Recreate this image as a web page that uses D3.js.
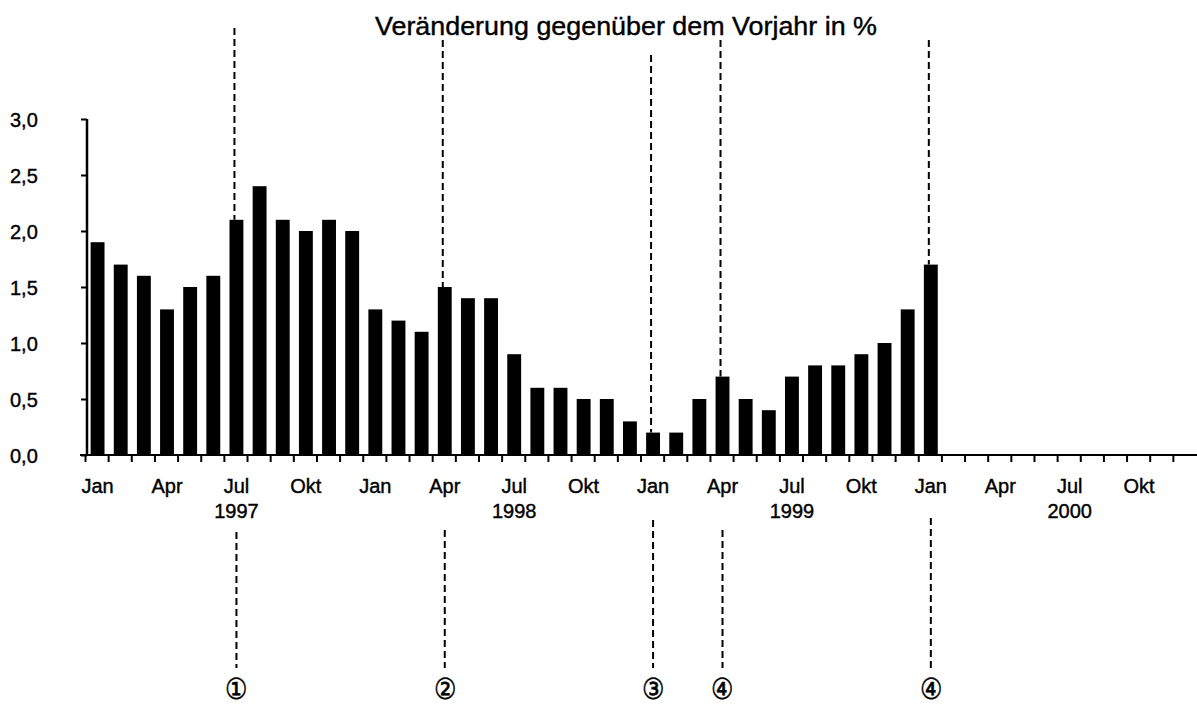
<!DOCTYPE html>
<html><head><meta charset="utf-8">
<script src="https://cdn.jsdelivr.net/npm/d3@7"></script>
<style>body{margin:0;background:#fff}svg{display:block}text{font-family:"Liberation Sans",Arial,sans-serif;fill:#000}</style>
</head><body>
<svg id="c" width="1197" height="704"></svg>
<script>
const years = ["1997","1998","1999","2000"];
const monthNames = ["Jan","Feb","Mär","Apr","Mai","Jun","Jul","Aug","Sep","Okt","Nov","Dez"];
const labelMonths = ["Jan","Apr","Jul","Okt"];
const values = [
  1.9,1.7,1.6,1.3,1.5,1.6,2.1,2.4,2.1,2.0,2.1,2.0,
  1.3,1.2,1.1,1.5,1.4,1.4,0.9,0.6,0.6,0.5,0.5,0.3,
  0.2,0.2,0.5,0.7,0.5,0.4,0.7,0.8,0.8,0.9,1.0,1.3,
  1.7
];
const yTicks = [0,0.5,1,1.5,2,2.5,3];
const eventMonths = ["1997-Jul","1998-Apr","1999-Jan","1999-Apr","2000-Jan"];
const eventLabels = ["\u2460","\u2461","\u2462","\u2463","\u2463"];
const title = "Veränderung gegenüber dem Vorjahr in %";

const months = [];
years.forEach(y => monthNames.forEach(m => months.push(y + "-" + m)));

const svg = d3.select("#c");
const x = d3.scaleBand().domain(months).range([86, 1197]).paddingInner(0.4).paddingOuter(0.2);
const y = d3.scaleLinear().domain([0, 3]).range([455, 119]);
const step = x.step();
const cxOf = m => x(m) + x.bandwidth() / 2;

// bars
svg.append("g").selectAll("rect").data(values).join("rect")
  .attr("x", (d, i) => x(months[i]))
  .attr("width", x.bandwidth())
  .attr("y", d => y(d))
  .attr("height", d => y(0) - y(d))
  .attr("fill", "#000");

// y axis
const yAxis = d3.axisLeft(y).tickValues(yTicks).tickSize(6)
  .tickFormat(d => d3.format(".1f")(d).replace(".", ","));
const gy = svg.append("g").attr("transform", "translate(87,0)").call(yAxis);
gy.select(".domain").attr("stroke-width", 2.5).attr("d", "M0," + y(3) + "V" + y(0));
gy.selectAll(".tick line").attr("stroke-width", 2);
gy.selectAll(".tick text").attr("font-size", 20).attr("text-anchor", "start")
  .attr("x", -77).attr("dy", "0.36em").attr("stroke", "#000").attr("stroke-width", 0.4);

// x axis
const gx = svg.append("g").attr("transform", "translate(0,455)");
gx.append("line").attr("x1", 80).attr("x2", 1197).attr("stroke", "#000").attr("stroke-width", 2);
gx.selectAll("line.t").data(months).join("line").attr("class", "t")
  .attr("x1", d => x(d) - step * 0.2 - 0.5)
  .attr("x2", d => x(d) - step * 0.2 - 0.5)
  .attr("y1", 0).attr("y2", 7).attr("stroke", "#000").attr("stroke-width", 2);
gx.selectAll("text.m").data(months.filter(m => labelMonths.includes(m.split("-")[1]))).join("text")
  .attr("class", "m")
  .attr("x", d => cxOf(d)).attr("y", 38)
  .attr("text-anchor", "middle").attr("font-size", 20).attr("stroke", "#000").attr("stroke-width", 0.4)
  .text(d => d.split("-")[1]);
gx.selectAll("text.yr").data(years).join("text").attr("class", "yr")
  .attr("x", d => cxOf(d + "-Jul")).attr("y", 63)
  .attr("text-anchor", "middle").attr("font-size", 20).attr("stroke", "#000").attr("stroke-width", 0.4)
  .text(d => d);

// title
svg.append("text").attr("x", 626).attr("y", 35).attr("text-anchor", "middle")
  .attr("font-size", 26).attr("stroke", "#000").attr("stroke-width", 0.4)
  .attr("textLength", 502).attr("lengthAdjust", "spacingAndGlyphs").text(title);

// event dashed lines
const topEnds = [28, 40, 55, 40, 40];
const botStart = [532, 530, 520, 530, 518];
eventMonths.forEach((m, i) => {
  const cx = cxOf(m);
  const v = values[months.indexOf(m)];
  svg.append("line").attr("x1", cx - 2).attr("x2", cx - 2).attr("y1", topEnds[i]).attr("y2", y(v))
    .attr("stroke", "#000").attr("stroke-width", 2).attr("stroke-dasharray", "7,4");
  svg.append("line").attr("x1", cx).attr("x2", cx).attr("y1", botStart[i]).attr("y2", 668)
    .attr("stroke", "#000").attr("stroke-width", 2).attr("stroke-dasharray", "7,4");
  svg.append("text").attr("transform", `translate(${cx},699) scale(0.95,1.1)`)
    .attr("text-anchor", "middle")
    .attr("font-family", "'DejaVu Sans','Noto Sans CJK JP',sans-serif").attr("font-size", 26)
    .attr("stroke", "#000").attr("stroke-width", 0.5)
    .text(eventLabels[i]);
});
</script>
</body></html>
